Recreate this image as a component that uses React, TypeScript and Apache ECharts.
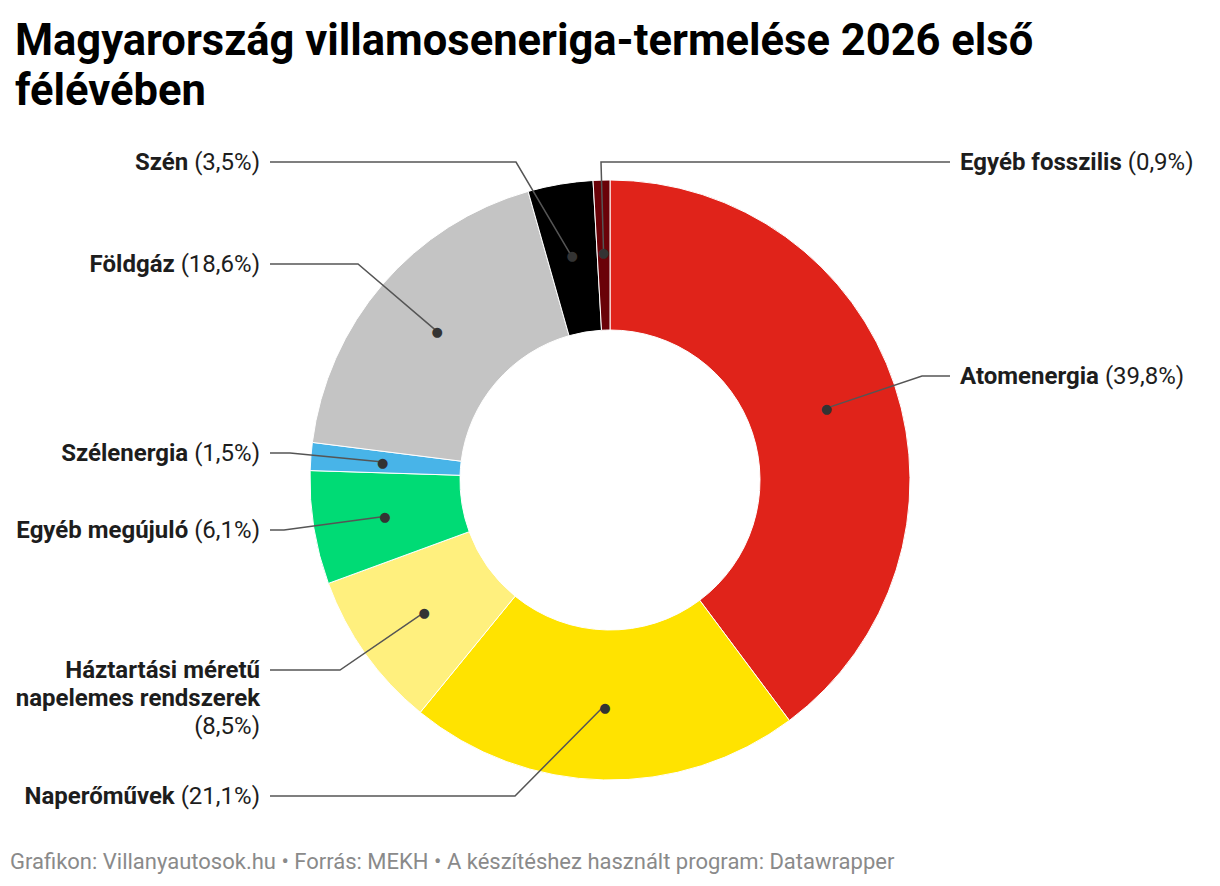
import { useEffect, useRef } from 'react';
import * as echarts from 'echarts';

// source data (percent of first-half 2026 generation)
const categories = [
  'Atomenergia',
  'Naperőművek',
  'Háztartási méretű\nnapelemes rendszerek',
  'Egyéb megújuló',
  'Szélenergia',
  'Földgáz',
  'Szén',
  'Egyéb fosszilis',
];
const shares = [39.8, 21.1, 8.5, 6.1, 1.5, 18.6, 3.5, 0.9];
const colors = ['#e0231a', '#ffe300', '#fff07e', '#00db75', '#48b4e8', '#c4c4c4', '#000000', '#6a0208'];

// label anchors: where each label sits and how its leader line bends
const labelSpots = [
  { x: 960, y: 376, align: 'left', knee: [922, 376], end: [950, 376] },
  { x: 260, y: 796, align: 'right', knee: [515, 796], end: [270, 796] },
  { x: 260, y: 670, align: 'right', knee: [340, 670], end: [270, 670] },
  { x: 260, y: 530, align: 'right', knee: [284, 530], end: [270, 530] },
  { x: 260, y: 453, align: 'right', knee: [290, 453], end: [270, 453] },
  { x: 260, y: 264, align: 'right', knee: [358, 264], end: [270, 264] },
  { x: 260, y: 162, align: 'right', knee: [516, 162], end: [270, 162] },
  { x: 960, y: 162, align: 'left', knee: [601, 162], end: [950, 162] },
];

const CX = 610;
const CY = 480;
const R0 = 150;
const R1 = 300;
const FONT = 'Roboto, "Noto Sans", sans-serif';

const fmt = (v: number) => `${v.toFixed(1).replace('.', ',')}%`;

export default function App() {
  const chartRef = useRef<HTMLDivElement>(null);

  useEffect(() => {
    if (!chartRef.current) return;
    document.body.style.margin = '0';
    const chart = echarts.init(chartRef.current, undefined, { renderer: 'svg' });

    const total = shares.reduce((a, b) => a + b, 0);
    // mid-ring point of each slice, where the leader line starts
    const dots = shares.map((v, i) => {
      const before = shares.slice(0, i).reduce((a, b) => a + b, 0);
      const theta = ((before + v / 2) / total) * Math.PI * 2;
      const r = (R0 + R1) / 2;
      return [CX + r * Math.sin(theta), CY - r * Math.cos(theta)];
    });

    const ring = {
      type: 'pie' as const,
      center: [CX, CY],
      radius: [R0, R1],
      startAngle: 90,
      clockwise: true,
      avoidLabelOverlap: false,
      emphasis: { disabled: true },
    };
    const plain = shares.map((v, i) => ({ name: categories[i], value: v }));

    const option: echarts.EChartsOption = {
      animation: false,
      title: {
        text: 'Magyarország villamoseneriga-termelése 2026 első\nfélévében',
        left: 10,
        top: 10,
        textStyle: {
          fontFamily: FONT,
          fontSize: 43.5,
          fontWeight: 'bold',
          color: '#000',
          lineHeight: 50,
        },
      },
      graphic: [
        {
          type: 'text',
          left: 10,
          top: 850,
          style: {
            text: 'Grafikon: Villanyautosok.hu • Forrás: MEKH • A készítéshez használt program: Datawrapper',
            font: `22px ${FONT}`,
            fill: '#8a8a8a',
          },
        },
      ],
      series: [
        {
          ...ring,
          z: 2,
          itemStyle: { borderColor: '#fff', borderWidth: 1 },
          data: plain.map((d, i) => ({ ...d, itemStyle: { color: colors[i] } })),
          label: { show: false },
          labelLine: { show: false },
        },
        {
          // labels and leader lines, drawn above the slices
          ...ring,
          z: 3,
          silent: true,
          itemStyle: { color: 'rgba(0,0,0,0)', borderWidth: 0 },
          data: plain,
          label: {
            show: true,
            formatter: (p: any) => {
              const lines = String(p.name).split('\n');
              if (p.dataIndex === 2) {
                return `${lines.map((l) => `{b|${l}}`).join('\n')}\n{p|(${fmt(p.value)})}`;
              }
              return `{b|${lines[0]} }{p|(${fmt(p.value)})}`;
            },
            rich: {
              b: { fontFamily: FONT, fontSize: 24, fontWeight: 'bold', color: '#1d1d1d', lineHeight: 28 },
              p: { fontFamily: FONT, fontSize: 24, color: '#1d1d1d', lineHeight: 28 },
            },
          },
          labelLine: { show: true, lineStyle: { color: '#555', width: 1.5 } },
          labelLayout: (params: any) => {
            const s = labelSpots[params.dataIndex];
            const multi = params.dataIndex === 2;
            return {
              x: s.x,
              y: multi ? s.y - 14 : s.y,
              align: s.align,
              verticalAlign: multi ? 'top' : 'middle',
              labelLinePoints: [dots[params.dataIndex], s.knee, s.end],
            };
          },
        },
        {
          // dots at the start of each leader line
          ...ring,
          z: 4,
          silent: true,
          itemStyle: { color: 'rgba(0,0,0,0)', borderWidth: 0 },
          data: plain,
          label: {
            show: true,
            position: 'inside',
            formatter: '●',
            fontFamily: 'DejaVu Sans',
            fontSize: 13,
            color: '#333',
          },
          labelLine: { show: false },
        },
      ],
    };

    chart.setOption(option);
    return () => chart.dispose();
  }, []);

  return <div ref={chartRef} style={{ width: 1220, height: 886 }} />;
}
